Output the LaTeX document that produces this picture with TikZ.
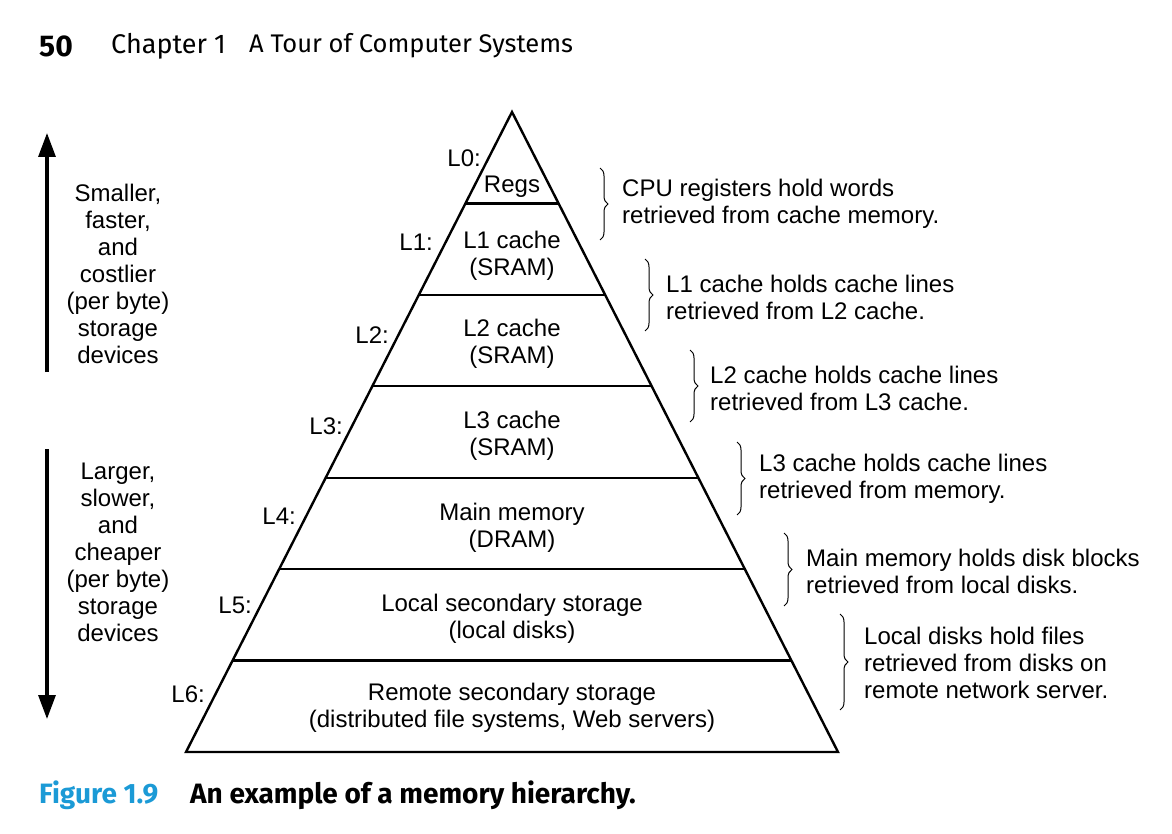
\documentclass[tikz,border=0pt]{standalone}
\usepackage{fontspec}
\setmainfont{Liberation Sans}
\newfontfamily\headfont{Fira Sans}
\usetikzlibrary{decorations.pathreplacing,arrows.meta}
\definecolor{figblue}{HTML}{1B9AD6}
\tikzset{
  pyr/.style={line width=2.4pt, line join=miter},
  body/.style={font=\fontsize{24}{27}\selectfont, inner sep=0pt},
  lvl/.style={body, align=center},
  lab/.style={body, anchor=east},
  note/.style={body, align=left, anchor=west},
  side/.style={body, align=center},
  brc/.style={decorate, decoration={brace, amplitude=8pt}, line width=1pt},
  bigarrow/.style={line width=3.2pt, -{Triangle[length=24pt,width=17pt]}},
  head/.style={font=\headfont\fontsize{26}{30}\selectfont, anchor=west, inner sep=0pt},
  capt/.style={font=\headfont\fontsize{28}{30}\selectfont\bfseries, anchor=west, inner sep=0pt},
}
\begin{document}
\begin{tikzpicture}[x=1pt,y=-1pt]
\useasboundingbox (0,0) rectangle (1172,834);
% header
\node[head, font=\headfont\fontsize{30}{30}\selectfont\bfseries] (pnum) at (39,46) {50};
\node[head, font=\headfont\fontsize{27}{30}\selectfont] (chap) at (111,46) {Chapter 1};
\node[head, font=\headfont\fontsize{25.5}{30}\selectfont] (title) at (249,46) {A Tour of Computer Systems};
% pyramid
\coordinate (apex) at (512,112);
\coordinate (bl) at (186,752);
\coordinate (br) at (838,752);
\draw[pyr] (apex) -- (bl) -- (br) -- cycle;
\foreach \k in {1,...,6}{
  \path (apex) -- (bl) coordinate[pos=\k/7] (l\k);
  \path (apex) -- (br) coordinate[pos=\k/7] (r\k);
  \draw[line width=2.4pt] (l\k) -- (r\k);
}
% level texts
\node[lvl] (t0) at (512,187) {Regs};
\node[lvl] (t1) at (512,256) {L1 cache\\(SRAM)};
\node[lvl] (t2) at (512,344) {L2 cache\\(SRAM)};
\node[lvl] (t3) at (512,436) {L3 cache\\(SRAM)};
\node[lvl] (t4) at (512,528) {Main memory\\(DRAM)};
\node[lvl] (t5) at (512,619) {Local secondary storage\\(local disks)};
\node[lvl] (t6) at (512,708) {Remote secondary storage\\(distributed file systems, Web servers)};
% level labels
\node[lab] (L0) at (481,158) {L0:};
\node[lab] (L1) at (433,242) {L1:};
\node[lab] (L2) at (389,335) {L2:};
\node[lab] (L3) at (343,426) {L3:};
\node[lab] (L4) at (296,516) {L4:};
\node[lab] (L5) at (252,605) {L5:};
\node[lab] (L6) at (205,694) {L6:};
% braces
\coordinate (b0a) at (600,168); \coordinate (b0b) at (600,240);
\coordinate (b1a) at (645,259); \coordinate (b1b) at (645,331);
\coordinate (b2a) at (690,350); \coordinate (b2b) at (690,422);
\coordinate (b3a) at (737,442); \coordinate (b3b) at (737,515);
\coordinate (b4a) at (784,533); \coordinate (b4b) at (784,606);
\coordinate (b5a) at (840,614); \coordinate (b5b) at (840,710);
\draw[brc] (b0a) -- (b0b);
\draw[brc] (b1a) -- (b1b);
\draw[brc] (b2a) -- (b2b);
\draw[brc] (b3a) -- (b3b);
\draw[brc] (b4a) -- (b4b);
\draw[brc] (b5a) -- (b5b);
\node[note] (n0) at (622,204) {CPU registers hold words\\retrieved from cache memory.};
\node[note] (n1) at (666,297) {L1 cache holds cache lines\\retrieved from L2 cache.};
\node[note] (n2) at (710,388) {L2 cache holds cache lines\\retrieved from L3 cache.};
\node[note] (n3) at (759,479) {L3 cache holds cache lines\\retrieved from memory.};
\node[note] (n4) at (806,571) {Main memory holds disk blocks\\retrieved from local disks.};
\node[note] (n5) at (864,663) {Local disks hold files\\retrieved from disks on\\remote network server.};
% side arrows
\coordinate (ua) at (47,372); \coordinate (ub) at (47,133);
\coordinate (da) at (47,449); \coordinate (db) at (47,719);
\draw[bigarrow] (ua) -- (ub);
\draw[bigarrow] (da) -- (db);
\node[side] (s1) at (118,274) {Smaller,\\faster,\\and\\costlier\\(per byte)\\storage\\devices};
\node[side] (s2) at (118,552) {Larger,\\slower,\\and\\cheaper\\(per byte)\\storage\\devices};
% caption
\node[capt, text=figblue] (fig) at (39,795) {Figure 1.9};
\node[capt] (cap) at (190,795) {An example of a memory hierarchy.};
\end{tikzpicture}
\end{document}
